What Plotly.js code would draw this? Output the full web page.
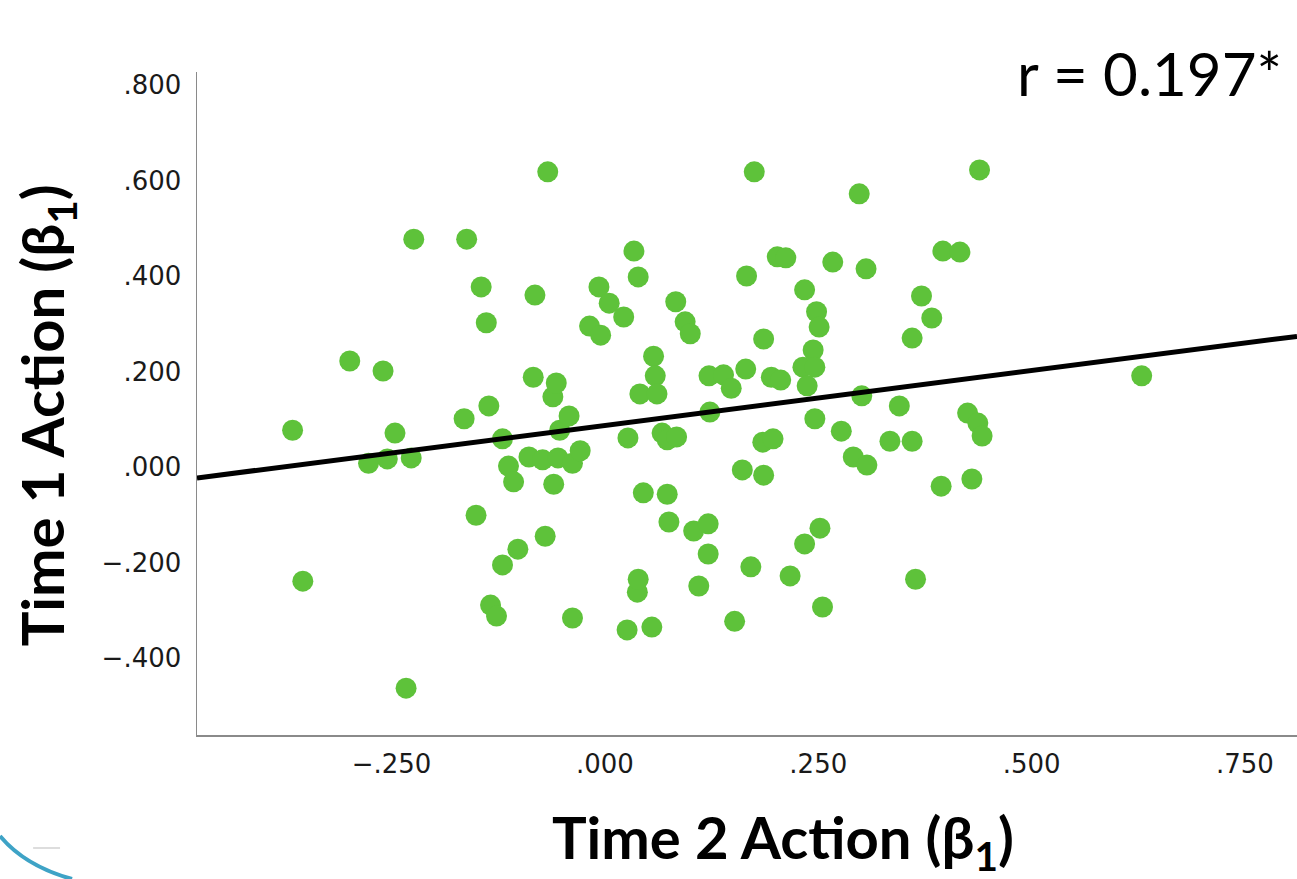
<!DOCTYPE html>
<html>
<head>
<meta charset="utf-8">
<script src="https://cdn.plot.ly/plotly-3.0.1.min.js"></script>
<style>html,body{margin:0;padding:0;background:#fff;overflow:hidden;}#chart{width:1297px;height:879px;}</style>
</head>
<body>
<div id="chart"></div>
<script>
// Time 2 Action (beta1) values (x)
const time2Action = [
  -0.366,-0.354,-0.299,-0.277,-0.260,-0.246,-0.255,-0.233,-0.227,-0.224,
  -0.165,-0.162,-0.151,-0.145,-0.139,-0.136,-0.134,-0.127,-0.120,-0.120,
  -0.113,-0.107,-0.102,-0.089,-0.084,-0.082,-0.073,-0.070,-0.067,-0.061,
  -0.060,-0.057,-0.055,-0.053,-0.042,-0.038,-0.038,-0.029,-0.018,-0.007,
  -0.005,0.005,0.022,0.026,0.027,0.034,0.038,0.039,0.039,0.041,
  0.045,0.055,0.057,0.059,0.061,0.067,0.073,0.073,0.075,0.083,
  0.084,0.094,0.100,0.104,0.110,0.121,0.121,0.122,0.123,0.139,
  0.148,0.152,0.161,0.165,0.166,0.171,0.175,0.185,0.186,0.186,
  0.195,0.197,0.202,0.206,0.212,0.217,0.234,0.232,0.234,0.237,
  0.244,0.246,0.246,0.248,0.251,0.252,0.255,0.267,0.277,0.291,
  0.298,0.301,0.306,0.307,0.334,0.345,0.360,0.360,0.364,0.371,
  0.383,0.394,0.396,0.416,0.425,0.430,0.437,0.439,0.442,0.629
];
// Time 1 Action (beta1) values (y)
const time1Action = [
  0.077,-0.239,0.222,0.008,0.201,0.071,0.017,-0.463,0.019,0.477,
  0.101,0.477,-0.101,0.377,0.302,0.128,-0.289,-0.312,0.059,-0.205,
  0.002,-0.031,-0.172,0.021,0.188,0.360,0.015,-0.145,0.618,0.147,
  -0.036,0.176,0.019,0.077,0.107,0.008,-0.316,0.034,0.295,0.377,
  0.276,0.343,0.314,-0.341,0.061,0.452,-0.262,0.398,-0.235,0.153,
  -0.054,-0.335,0.232,0.191,0.153,0.071,0.057,-0.057,-0.115,0.346,
  0.063,0.304,0.279,-0.134,-0.249,-0.119,-0.182,0.191,0.115,0.193,
  0.165,-0.323,-0.006,0.205,0.400,-0.209,0.618,0.052,0.268,-0.017,
  0.188,0.059,0.440,0.182,0.438,-0.228,0.371,0.209,-0.161,0.170,
  0.245,0.209,0.101,0.325,0.293,-0.128,-0.293,0.429,0.075,0.021,
  0.572,0.149,0.415,0.004,0.054,0.128,0.270,0.054,-0.235,0.358,
  0.312,-0.040,0.452,0.450,0.113,-0.025,0.092,0.622,0.065,0.191
];
// Fitted regression line
const fitIntercept = 0.087;
const fitSlope = 0.230;
const correlationLabel = "r = 0.197*";

const xTickVals = [-0.25, 0, 0.25, 0.5, 0.75];
const xTickText = ["\u2212.250", ".000", ".250", ".500", ".750"];
const yTickVals = [-0.4, -0.2, 0, 0.2, 0.4, 0.6, 0.8];
const yTickText = ["\u2212.400", "\u2212.200", ".000", ".200", ".400", ".600", ".800"];

const xRange = [-0.478, 0.811];
const yRange = [-0.561, 0.827];

const fitX = xRange.slice();
const fitY = fitX.map(v => fitIntercept + fitSlope * v);

const traces = [
  {
    type: 'scatter', mode: 'markers',
    x: time2Action, y: time1Action,
    marker: {size: 21, color: '#5EC23A', line: {width: 0}},
    hoverinfo: 'x+y'
  },
  {
    type: 'scatter', mode: 'lines',
    x: fitX, y: fitY,
    line: {color: '#000000', width: 5},
    hoverinfo: 'skip'
  }
];

const tickFont = {family: 'DejaVu Sans', size: 26, color: '#1a1a1a'};
const titleFont = {family: 'Lato', size: 58, color: '#000000', weight: 'bold'};

const layout = {
  width: 1297, height: 879,
  margin: {l: 197, r: 0, t: 72, b: 144, pad: 0},
  paper_bgcolor: '#ffffff', plot_bgcolor: '#ffffff',
  showlegend: false,
  xaxis: {
    range: xRange, tickvals: xTickVals, ticktext: xTickText,
    showgrid: false, zeroline: false, showline: true, linecolor: '#8a8a8a', linewidth: 1.5,
    ticks: '', tickfont: tickFont, ticklabelstandoff: 5
  },
  yaxis: {
    range: yRange, tickvals: yTickVals, ticktext: yTickText,
    showgrid: false, zeroline: false, showline: true, linecolor: '#8a8a8a', linewidth: 1.5,
    ticks: '', tickfont: tickFont, ticklabelstandoff: 9
  },
  annotations: [
    {text: 'Time 2 Action (β<sub>1</sub>)', xref: 'paper', yref: 'paper', x: 0.5327, y: -0.160,
     xanchor: 'center', yanchor: 'middle', showarrow: false, font: titleFont},
    {text: 'Time 1 Action (β<sub>1</sub>)', xref: 'paper', yref: 'paper', x: -0.1365, y: 0.482,
     xanchor: 'center', yanchor: 'middle', textangle: -90, showarrow: false, font: titleFont},
    {text: correlationLabel, xref: 'paper', yref: 'paper', x: 0.988, y: 0.998,
     xanchor: 'right', yanchor: 'middle', showarrow: false,
     font: {family: 'Lato', size: 60, color: '#000000'}}
  ],
  shapes: [
    {type: 'path', xref: 'paper', yref: 'paper',
     path: 'M -0.1791,-0.1523 Q -0.1564,-0.1976 -0.1136,-0.2172',
     line: {color: '#3EA3C6', width: 4}},
    {type: 'line', xref: 'paper', yref: 'paper', x0: -0.149, x1: -0.1245, y0: -0.1704, y1: -0.1704,
     line: {color: '#dddddd', width: 2}}
  ]
};

Plotly.newPlot('chart', traces, layout, {displayModeBar: false, staticPlot: true});
</script>
</body>
</html>
